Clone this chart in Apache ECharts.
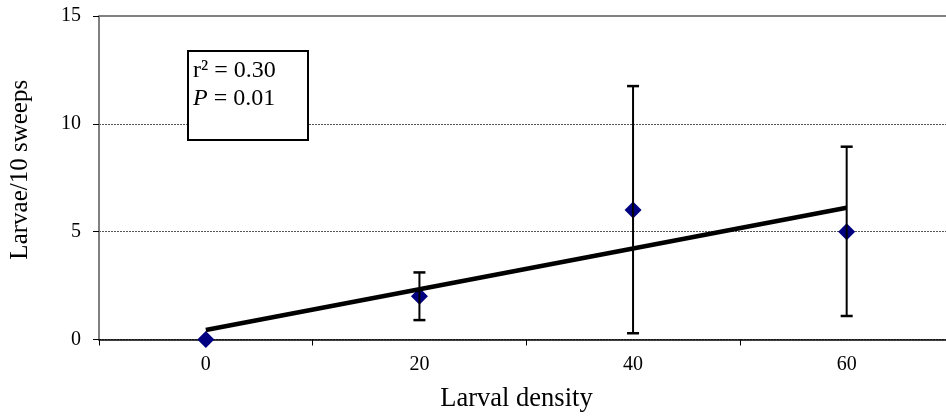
<!DOCTYPE html>
<html><head><meta charset="utf-8">
<script src="https://cdn.jsdelivr.net/npm/echarts@6/dist/echarts.min.js"></script>
<style>html,body{margin:0;padding:0;background:#fff}#c{width:946px;height:418px}</style>
</head><body><div id="c"></div>
<script>
const xValues = [0, 20, 40, 60];
const xTickLabels = [0, 20, 40, 60];
const xTickMarks = [-10, 10, 30, 50];
const means = [0, 2, 6, 5];
const errLow = [0, 0.9, 0.29, 1.09];
const errHigh = [0, 3.11, 11.75, 8.94];
const trendX = [0, 60];
const trendY = [0.44, 6.11];
const yTicks = {min: 0, max: 15, interval: 5};

const font = 'Liberation Serif, Times New Roman, serif';
const chart = echarts.init(document.getElementById('c'));
const pts = xValues.map((x, i) => [x, means[i]]);
const errData = xValues.map((x, i) => [x, errLow[i], errHigh[i]]).filter(d => d[2] > d[1]);
const trendData = trendX.map((x, i) => [x, trendY[i]]);

chart.setOption({
  animation: false,
  grid: {left: 98, top: 16, right: 0, bottom: 78.5},
  xAxis: {
    type: 'value', min: -10, max: 69.3,
    name: 'Larval density', nameLocation: 'middle', nameGap: 46,
    nameTextStyle: {fontFamily: font, fontSize: 26.5, color: '#000', padding: [0, 12, 0, 0]},
    axisLine: {show: true, onZero: false, lineStyle: {color: '#000', width: 1.5}},
    axisTick: {show: true, length: 6, customValues: xTickMarks, lineStyle: {color: '#000', width: 1}},
    axisLabel: {fontFamily: font, fontSize: 20, color: '#000', margin: 15, customValues: xTickLabels},
    splitLine: {show: false}
  },
  yAxis: {
    type: 'value', min: yTicks.min, max: yTicks.max, interval: yTicks.interval,
    name: 'Larvae/10 sweeps', nameLocation: 'middle', nameGap: 66, nameRotate: 90,
    nameTextStyle: {fontFamily: font, fontSize: 25, color: '#000', padding: [0, 0, 0, 16]},
    axisLine: {show: true, onZero: false, lineStyle: {color: '#808080', width: 2}},
    axisTick: {show: true, length: 6, lineStyle: {color: '#000', width: 1}},
    axisLabel: {fontFamily: font, fontSize: 20, color: '#000', margin: 18},
    splitLine: {show: true, lineStyle: {color: '#555', type: [2, 1], width: 1}}
  },
  series: [
    {
      type: 'scatter', data: pts, symbol: 'diamond', symbolSize: [17, 17],
      itemStyle: {color: '#000080', opacity: 1}, z: 3,
      markLine: {silent: true, symbol: 'none', label: {show: false},
        lineStyle: {color: '#808080', type: 'solid', width: 2},
        data: [{yAxis: 15}]}
    },
    {
      type: 'custom', z: 4,
      data: errData,
      renderItem: function (params, api) {
        const x = api.value(0);
        const lo = api.coord([x, api.value(1)]);
        const hi = api.coord([x, api.value(2)]);
        const w = 6;
        return {type: 'group', children: [
          {type: 'line', shape: {x1: lo[0], y1: lo[1], x2: hi[0], y2: hi[1]}, style: {stroke: '#000', lineWidth: 2}},
          {type: 'line', shape: {x1: lo[0] - w, y1: lo[1], x2: lo[0] + w, y2: lo[1]}, style: {stroke: '#000', lineWidth: 2.5}},
          {type: 'line', shape: {x1: hi[0] - w, y1: hi[1], x2: hi[0] + w, y2: hi[1]}, style: {stroke: '#000', lineWidth: 2.5}}
        ]};
      }
    },
    {
      type: 'line', data: trendData, symbol: 'none', z: 5,
      lineStyle: {color: '#000', width: 4.5}
    }
  ],
  graphic: [
    {type: 'rect', left: 187, top: 50, z: 10,
      shape: {width: 120, height: 89},
      style: {fill: '#fff', stroke: '#000', lineWidth: 2}},
    {type: 'text', left: 193, top: 59, z: 11,
      style: {
        text: '{a|r\u00B2 = 0.30}\n{i|P}{a| = 0.01}',
        rich: {
          a: {fontFamily: font, fontSize: 24, lineHeight: 28, fill: '#000'},
          i: {fontFamily: font, fontSize: 24, lineHeight: 28, fill: '#000', fontStyle: 'italic'}
        }
      }}
  ]
});
</script></body></html>
